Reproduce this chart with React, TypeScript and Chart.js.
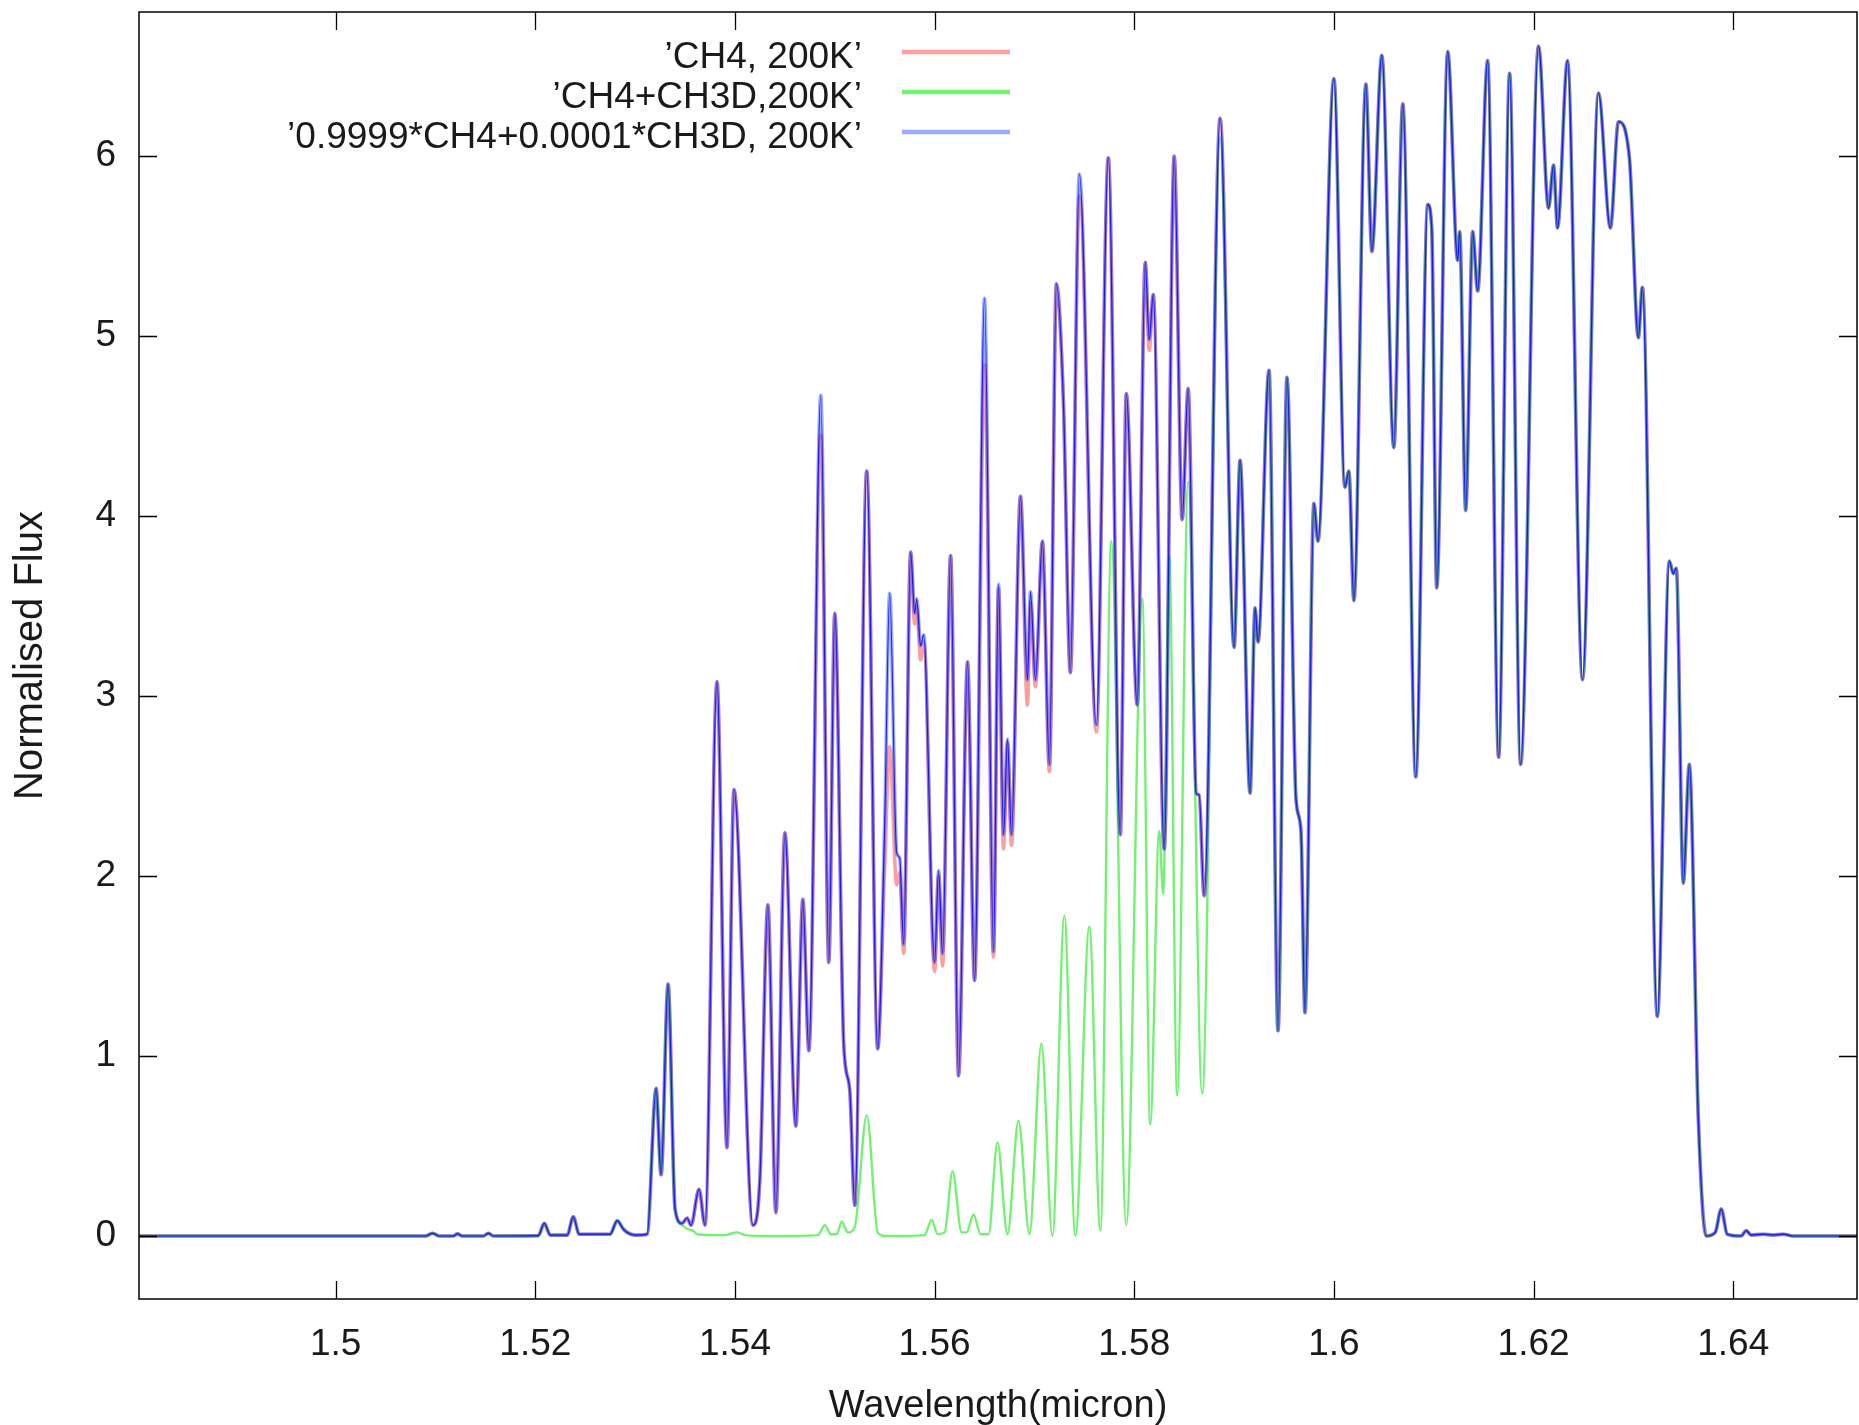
import React, { useEffect, useRef } from "react";
import { Chart, registerables } from "chart.js";

Chart.register(...registerables);

// ---------------- data ----------------
const seriesLabels = [
  "\u2019CH4, 200K\u2019",
  "\u2019CH4+CH3D,200K\u2019",
  "\u20190.9999*CH4+0.0001*CH3D, 200K\u2019",
];

// shared wavelength grid (micron) for the CH4 and mixture spectra
const wavelength = [
  1.4803, 1.509, 1.5097, 1.5104, 1.5118, 1.5122, 1.5127, 1.5148, 1.5153, 1.5158,
  1.5203, 1.5209, 1.5215, 1.5232, 1.5238, 1.5244, 1.5275, 1.5282, 1.5288, 1.5292,
  1.53, 1.5312, 1.5321, 1.5326, 1.5333, 1.534, 1.5347, 1.5352, 1.5356, 1.5364,
  1.537, 1.5382, 1.5392, 1.5399, 1.5418, 1.5425, 1.5433, 1.5441, 1.545, 1.5461,
  1.5468, 1.5474, 1.5486, 1.5494, 1.55, 1.5509, 1.5515, 1.552, 1.5532, 1.5543,
  1.555, 1.5555, 1.5562, 1.5565, 1.5569, 1.5576, 1.558, 1.5582, 1.5586, 1.5589,
  1.56, 1.5604, 1.5608, 1.5616, 1.5624, 1.5633, 1.564, 1.565, 1.5659, 1.5664,
  1.5669, 1.5673, 1.5677, 1.5686, 1.5693, 1.5696, 1.5701, 1.5708, 1.5715, 1.5722,
  1.5729, 1.5736, 1.5745, 1.5762, 1.5774, 1.5786, 1.5792, 1.5803, 1.5811, 1.5815,
  1.5819, 1.583, 1.584, 1.5848, 1.5854, 1.5862, 1.5865, 1.587, 1.5886, 1.59,
  1.5906, 1.5916, 1.5921, 1.5924, 1.5935, 1.5944, 1.5953, 1.5962, 1.5967, 1.5971,
  1.598, 1.5984, 1.6, 1.6011, 1.6015, 1.602, 1.6032, 1.6038, 1.6048, 1.606,
  1.6069, 1.6082, 1.6094, 1.6098, 1.6103, 1.6114, 1.6124, 1.6126, 1.6132, 1.6139,
  1.6144, 1.6154, 1.6165, 1.6176, 1.6187, 1.6205, 1.6215, 1.622, 1.6224, 1.6234,
  1.6249, 1.6265, 1.6277, 1.6285, 1.6296, 1.6305, 1.6309, 1.6324, 1.6336, 1.634,
  1.6343, 1.635, 1.6356, 1.6365, 1.6373, 1.6382, 1.6388, 1.6394, 1.6408, 1.6413,
  1.6418, 1.643, 1.644, 1.645, 1.646, 1.6524,
];

// 'CH4, 200K' (red)
const ch4Flux = [
  0, 0, 0.015, 0, 0, 0.012, 0, 0, 0.015, 0,
  0.002, 0.07, 0.005, 0.005, 0.106, 0.01, 0.01, 0.085, 0.04, 0.02,
  0.005, 0.01, 0.82, 0.34, 1.4, 0.15, 0.07, 0.1, 0.06, 0.26,
  0.06, 3.08, 0.49, 2.48, 0.06, 0.32, 1.84, 0.13, 2.24, 0.61,
  1.87, 1.03, 4.45, 1.52, 3.46, 1.06, 0.81, 0.17, 4.25, 1.04,
  2.05, 2.72, 1.95, 2.02, 1.57, 3.8, 3.4, 3.5, 3.2, 3.3,
  1.47, 2.0, 1.5, 3.78, 0.89, 3.19, 1.42, 4.84, 1.55, 3.6,
  2.15, 2.74, 2.17, 4.11, 2.95, 3.52, 3.05, 3.86, 2.58, 5.29,
  4.64, 3.13, 5.78, 2.8, 5.99, 2.23, 4.68, 2.95, 5.41, 4.92,
  5.23, 2.15, 6.0, 3.98, 4.71, 2.46, 2.45, 1.89, 6.21, 3.27,
  4.31, 2.46, 3.49, 3.3, 4.81, 1.14, 4.77, 2.43, 2.25, 1.24,
  4.07, 3.86, 6.43, 4.16, 4.25, 3.53, 6.4, 5.47, 6.56, 4.38,
  6.29, 2.55, 5.73, 5.6, 3.6, 6.58, 5.42, 5.58, 4.03, 5.58,
  5.25, 6.53, 2.66, 6.46, 2.62, 6.61, 5.71, 5.95, 5.6, 6.53,
  3.09, 6.35, 5.6, 6.19, 5.99, 4.99, 5.27, 1.22, 3.75, 3.68,
  3.71, 1.96, 2.62, 0.66, 0.0, 0.02, 0.15, 0.01, 0.0, 0.03,
  0.005, 0.01, 0.005, 0.01, 0, 0,
];

// '0.9999*CH4+0.0001*CH3D, 200K' (blue)
const mixFlux = [
  0, 0, 0.015, 0, 0, 0.012, 0, 0, 0.015, 0,
  0.002, 0.07, 0.005, 0.005, 0.106, 0.01, 0.01, 0.085, 0.04, 0.02,
  0.005, 0.01, 0.82, 0.34, 1.4, 0.15, 0.07, 0.1, 0.06, 0.26,
  0.06, 3.08, 0.49, 2.48, 0.06, 0.32, 1.84, 0.13, 2.24, 0.61,
  1.87, 1.03, 4.67, 1.52, 3.46, 1.06, 0.81, 0.17, 4.25, 1.04,
  2.3, 3.57, 2.13, 2.1, 1.62, 3.8, 3.46, 3.54, 3.28, 3.34,
  1.52, 2.03, 1.57, 3.78, 0.89, 3.19, 1.42, 5.21, 1.58, 3.62,
  2.23, 2.76, 2.23, 4.11, 3.09, 3.58, 3.09, 3.86, 2.62, 5.29,
  4.64, 3.13, 5.9, 2.84, 5.99, 2.23, 4.68, 2.95, 5.41, 4.98,
  5.23, 2.15, 6.0, 3.98, 4.71, 2.46, 2.45, 1.89, 6.21, 3.27,
  4.31, 2.46, 3.49, 3.3, 4.81, 1.14, 4.77, 2.43, 2.25, 1.24,
  4.07, 3.86, 6.43, 4.16, 4.25, 3.53, 6.4, 5.47, 6.56, 4.38,
  6.29, 2.55, 5.73, 5.6, 3.6, 6.58, 5.42, 5.58, 4.03, 5.58,
  5.25, 6.53, 2.66, 6.46, 2.62, 6.61, 5.71, 5.95, 5.6, 6.53,
  3.09, 6.35, 5.6, 6.19, 5.99, 4.99, 5.27, 1.22, 3.75, 3.68,
  3.71, 1.96, 2.62, 0.66, 0.0, 0.02, 0.15, 0.01, 0.0, 0.03,
  0.005, 0.01, 0.005, 0.01, 0, 0,
];

// 'CH4+CH3D,200K' (green) where it departs from the other two spectra
const ch3dWavelength = [
  1.5347, 1.5352, 1.5358, 1.5362, 1.539, 1.5402, 1.541, 1.544, 1.5483, 1.549,
  1.5496, 1.5502, 1.5507, 1.5513, 1.552, 1.5532, 1.5543, 1.555, 1.559, 1.5597,
  1.5603, 1.561, 1.5618, 1.5627, 1.5632, 1.5639, 1.5646, 1.5654, 1.5663, 1.5673,
  1.5684, 1.5695, 1.5707, 1.5718, 1.573, 1.5741, 1.5755, 1.5766, 1.5777, 1.5792,
  1.5808, 1.5816, 1.5825, 1.5829, 1.5835, 1.5843, 1.5854, 1.5868, 1.5886,
];
const ch3dFlux = [
  0.06, 0.04, 0.03, 0.01, 0.005, 0.02, 0.005, 0.0, 0.005, 0.06,
  0.01, 0.01, 0.08, 0.02, 0.05, 0.67, 0.02, 0.0, 0.005, 0.09,
  0.01, 0.02, 0.36, 0.02, 0.02, 0.12, 0.01, 0.01, 0.52, 0.01,
  0.64, 0.01, 1.07, 0.0, 1.78, 0.0, 1.72, 0.03, 3.86, 0.06,
  3.54, 0.62, 2.25, 1.9, 3.78, 0.78, 4.19, 0.79, 6.1,
];

const xTicks = [1.5, 1.52, 1.54, 1.56, 1.58, 1.6, 1.62, 1.64];
const xTickLabels = ["1.5", "1.52", "1.54", "1.56", "1.58", "1.6", "1.62", "1.64"];
const yTicks = [0, 1, 2, 3, 4, 5, 6];
const yTickLabels = ["0", "1", "2", "3", "4", "5", "6"];

const xTitle = "Wavelength(micron)";
const yTitle = "Normalised Flux";

// ---------------- styling ----------------
const FONT = "'Liberation Sans', Arial, Helvetica, sans-serif";
const FONT_SIZE = 37;
const TEXT_COLOR = "#1a1a1a";
const seriesColors = ["rgba(255,0,0,0.38)", "rgba(0,230,0,0.55)", "rgba(30,70,255,0.45)"];
const coreColor = "rgba(0,0,255,0.8)";

const framePlugin = {
  id: "gnuFrame",
  afterDatasetsDraw(chart: any) {
    const { ctx, chartArea, scales } = chart;
    const { left, right, top, bottom } = chartArea;
    const tick = 18;
    ctx.save();
    ctx.strokeStyle = "#000";
    ctx.lineWidth = 1.5;
    ctx.strokeRect(left, top, right - left, bottom - top);
    ctx.lineWidth = 1.3;
    ctx.beginPath();
    scales.x.ticks.forEach((t: any) => {
      const px = Math.round(scales.x.getPixelForValue(t.value)) + 0.5;
      ctx.moveTo(px, bottom);
      ctx.lineTo(px, bottom - tick);
      ctx.moveTo(px, top);
      ctx.lineTo(px, top + tick);
    });
    scales.y.ticks.forEach((t: any) => {
      const py = Math.round(scales.y.getPixelForValue(t.value)) + 0.5;
      ctx.moveTo(left, py);
      ctx.lineTo(left + tick, py);
      ctx.moveTo(right, py);
      ctx.lineTo(right - tick, py);
    });
    ctx.stroke();

    // key (gnuplot style: right-aligned text, sample line to the right)
    const textRight = left + 723;
    const lineStart = left + 763;
    const lineEnd = left + 871;
    ctx.font = `${FONT_SIZE}px ${FONT}`;
    ctx.textAlign = "right";
    ctx.textBaseline = "alphabetic";
    chart.data.datasets.forEach((ds: any, i: number) => {
      if (!ds.label) return;
      const y = top + 40 + i * 40;
      ctx.fillStyle = TEXT_COLOR;
      ctx.fillText(ds.label, textRight, y + 15.5);
      ctx.strokeStyle = ds.borderColor;
      ctx.lineWidth = 4.5;
      ctx.beginPath();
      ctx.moveTo(lineStart, y);
      ctx.lineTo(lineEnd, y);
      ctx.stroke();
    });
    ctx.restore();
  },
};

export default function App() {
  const canvasRef = useRef<HTMLCanvasElement>(null);

  useEffect(() => {
    document.body.style.margin = "0";
    const canvas = canvasRef.current;
    if (!canvas) return;

    const mixPts = wavelength.map((x, i) => ({ x, y: mixFlux[i] }));
    const ch4Pts = wavelength.map((x, i) => ({ x, y: ch4Flux[i] }));
    const gStart = ch3dWavelength[0];
    const gEnd = ch3dWavelength[ch3dWavelength.length - 1];
    const ch3dPts = [
      ...mixPts.filter((p) => p.x < gStart),
      ...ch3dWavelength.map((x, i) => ({ x, y: ch3dFlux[i] })),
      ...mixPts.filter((p) => p.x > gEnd),
    ];

    const chart = new Chart(canvas, {
      type: "scatter",
      data: {
        datasets: [
          { label: seriesLabels[0], data: ch4Pts, borderColor: seriesColors[0], borderWidth: 3.6, showLine: true, order: 3 },
          { label: seriesLabels[1], data: ch3dPts, borderColor: seriesColors[1], borderWidth: 2.4, showLine: true, order: 2 },
          { label: seriesLabels[2], data: mixPts, borderColor: seriesColors[2], borderWidth: 3.6, showLine: true, order: 1 },
          { label: "", data: mixPts, borderColor: coreColor, borderWidth: 1.2, showLine: true, order: 0 },
        ],
      } as any,
      options: {
        responsive: false,
        animation: false,
        devicePixelRatio: 1,
        layout: { padding: { top: 12, right: 2, left: 0, bottom: 0 } },
        elements: {
          point: { radius: 0, hoverRadius: 0 },
          line: { cubicInterpolationMode: "monotone", borderCapStyle: "round", borderJoinStyle: "round" },
        },
        plugins: { legend: { display: false }, tooltip: { enabled: false } },
        scales: {
          x: {
            type: "linear",
            min: 1.4803,
            max: 1.6524,
            afterBuildTicks: (s: any) => {
              s.ticks = xTicks.map((v) => ({ value: v }));
            },
            afterFit: (s: any) => {
              s.height = 126;
              s.paddingLeft = 0;
              s.paddingRight = 0;
            },
            grid: { display: false, drawTicks: false },
            border: { display: false },
            ticks: {
              autoSkip: false,
              maxRotation: 0,
              padding: 23.5,
              color: TEXT_COLOR,
              font: { family: FONT, size: FONT_SIZE },
              callback: (_v: any, i: number) => xTickLabels[i],
            },
            title: {
              display: true,
              text: xTitle,
              color: TEXT_COLOR,
              font: { family: FONT, size: 38 },
              padding: { top: 0, bottom: -4.5 },
            },
          },
          y: {
            type: "linear",
            min: -0.35,
            max: 6.8,
            afterBuildTicks: (s: any) => {
              s.ticks = yTicks.map((v) => ({ value: v }));
            },
            afterFit: (s: any) => {
              s.width = 139;
              s.paddingTop = 0;
              s.paddingBottom = 0;
            },
            grid: { display: false, drawTicks: false },
            border: { display: false },
            ticks: {
              autoSkip: false,
              padding: 23,
              color: TEXT_COLOR,
              font: { family: FONT, size: FONT_SIZE },
              callback: (_v: any, i: number) => yTickLabels[i],
            },
            title: {
              display: true,
              text: yTitle,
              color: TEXT_COLOR,
              font: { family: FONT, size: 40 },
              padding: { top: 7, bottom: 0 },
            },
          },
        },
      } as any,
      plugins: [framePlugin],
    });

    return () => chart.destroy();
  }, []);

  return (
    <div style={{ width: 1859, height: 1425 }}>
      <canvas ref={canvasRef} width={1859} height={1425} style={{ display: "block" }} />
    </div>
  );
}
